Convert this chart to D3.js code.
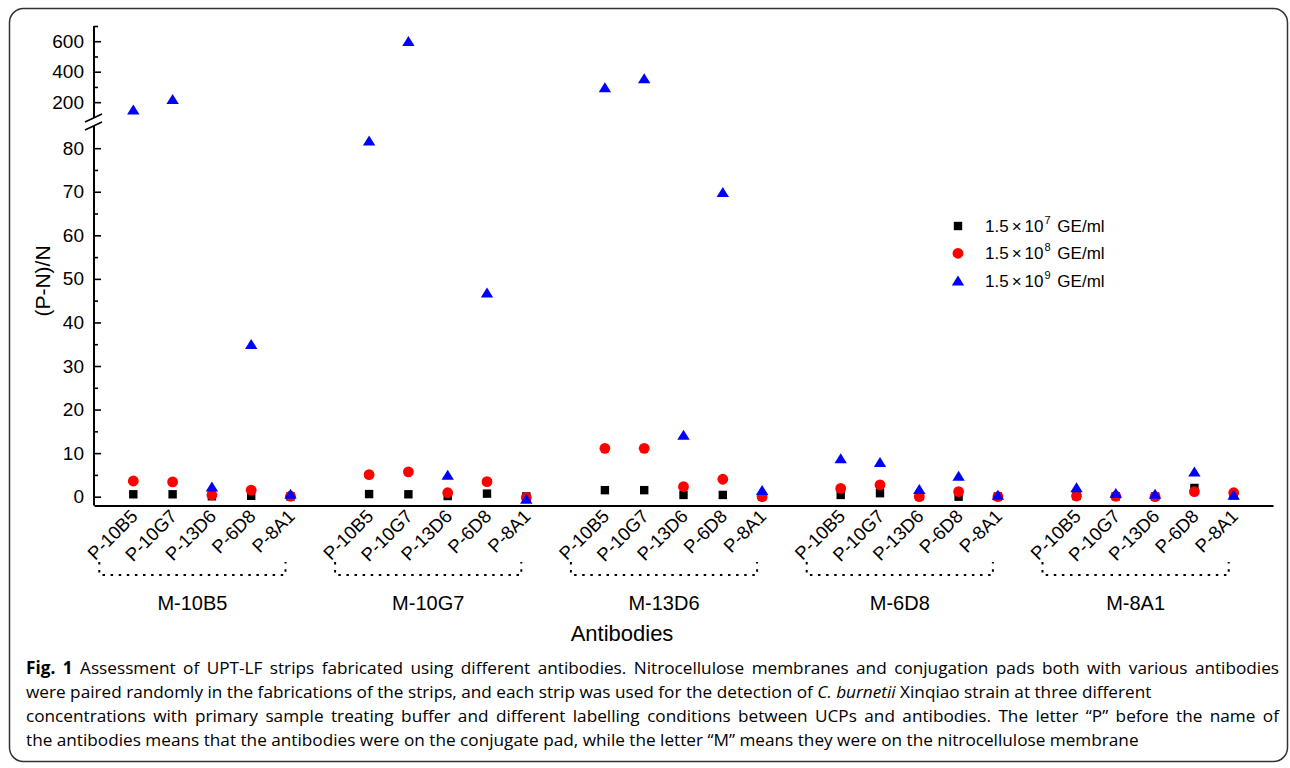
<!DOCTYPE html>
<html>
<head>
<meta charset="utf-8">
<script src="https://cdn.jsdelivr.net/npm/d3@7"></script>
<style>
  body { margin: 0; background: #fff; }
  text { font-family: "Liberation Sans", Arial, sans-serif; fill: #000; }
  .caption text { font-family: "Open Sans", "Noto Sans", sans-serif; }
</style>
</head>
<body>
<script>

// data
const groups = ["M-10B5", "M-10G7", "M-13D6", "M-6D8", "M-8A1"];
const pads = ["P-10B5", "P-10G7", "P-13D6", "P-6D8", "P-8A1"];

// (P-N)/N per strip, group by group (5 pads in each membrane group)
const ge7 = [0.55, 0.55, 0.1, 0.2, 0.05,
             0.6, 0.55, 0.15, 0.7, 0.05,
             1.5, 1.5, 0.4, 0.4, 0.05,
             0.4, 0.8, 0.1, 0.0, 0.05,
             0.15, 0.1, 0.05, 2.0, 0.3];
const ge8 = [3.6, 3.4, 0.4, 1.5, 0.1,
             5.05, 5.7, 0.9, 3.45, -0.2,
             11.1, 11.1, 2.3, 4.0, 0.0,
             1.9, 2.7, 0.0, 1.15, 0.0,
             0.15, 0.1, 0.0, 1.15, 0.9];
const ge9 = [150, 220, 2.3, 35.0, 0.6,
             81.7, 600, 5.0, 46.8, -0.5,
             296, 355, 14.2, 69.9, 1.5,
             8.8, 7.9, 1.7, 4.75, 0.4,
             2.1, 0.8, 0.6, 5.75, 0.4];

const upper_ticks = [200, 400, 600];
const upper_minor = [300, 500, 700];
const lower_ticks = d3.range(0, 81, 10);
const lower_minor = d3.range(5, 80, 10);

const series = [
    {name: "7", values: ge7, color: "#000000", shape: "square"},
    {name: "8", values: ge8, color: "#ff0000", shape: "circle"},
    {name: "9", values: ge9, color: "#0000ff", shape: "triangle"}
];

const caption_lines = [
    [{t: "Fig. 1", w: "bold"}, {t: " Assessment of UPT-LF strips fabricated using different antibodies. Nitrocellulose membranes and conjugation pads both with various antibodies"}],
    [{t: "were paired randomly in the fabrications of the strips, and each strip was used for the detection of "}, {t: "C. burnetii", s: "italic"}, {t: " Xinqiao strain at three different"}],
    [{t: "concentrations with primary sample treating buffer and different labelling conditions between UCPs and antibodies. The letter \u201cP\u201d before the name of"}],
    [{t: "the antibodies means that the antibodies were on the conjugate pad, while the letter \u201cM\u201d means they were on the nitrocellulose membrane"}]
];
// full lines are set to the column width, the others stay natural
const caption_widths = [1253, null, 1253, null];

// setup
const W = 1290, H = 768;
const svg = d3.select("body").append("svg")
    .attr("width", W)
    .attr("height", H);

svg.append("rect")
    .attr("x", 9.5).attr("y", 8.5)
    .attr("width", 1278).attr("height", 753)
    .attr("rx", 14)
    .attr("fill", "none")
    .attr("stroke", "#333")
    .attr("stroke-width", 1.5);

const slot_of = i => Math.floor(i / 5) * 6 + (i % 5);

const x = d3.scaleLinear().domain([-1, 29]).range([94, 1273]);
const y_up = d3.scaleLinear().domain([100, 700]).range([117.4, 26]);
const y_low = d3.scaleLinear().domain([-2, 85]).range([505.4, 126.4]);
const y_pos = v => v > 90 ? y_up(v) : y_low(v);

const X0 = 94;

// y axis, two segments
const axis_g = svg.append("g").attr("transform", `translate(${X0},0)`);

const add_axis = function (scale, major, minor) {
    const g_major = axis_g.append("g")
        .call(d3.axisLeft(scale).tickValues(major).tickSize(-7).tickPadding(10).tickFormat(d3.format("d")));
    g_major.select(".domain").remove();
    g_major.selectAll("text").attr("font-size", 19).attr("font-family", null);
    g_major.selectAll("line").attr("stroke-width", 1.6);

    const g_minor = axis_g.append("g")
        .call(d3.axisLeft(scale).tickValues(minor).tickSize(-4).tickFormat(""));
    g_minor.select(".domain").remove();
    g_minor.selectAll("line").attr("stroke-width", 1.6);
};
add_axis(y_up, upper_ticks, upper_minor);
add_axis(y_low, lower_ticks, lower_minor);

axis_g.append("line")
    .attr("x1", 0).attr("x2", 0)
    .attr("y1", y_up(700)).attr("y2", 118)
    .attr("stroke", "#000").attr("stroke-width", 2);
axis_g.append("line")
    .attr("x1", 0).attr("x2", 0)
    .attr("y1", 126).attr("y2", y_low(-2))
    .attr("stroke", "#000").attr("stroke-width", 2);

// axis break marks
[0, 8].forEach(off => {
    axis_g.append("line")
        .attr("x1", -9).attr("y1", 122 + off)
        .attr("x2", 8).attr("y2", 114 + off)
        .attr("stroke", "#000").attr("stroke-width", 1.6);
});

svg.append("text")
    .attr("transform", "translate(50,281) rotate(-90)")
    .attr("text-anchor", "middle")
    .attr("font-size", 21)
    .text("(P-N)/N");

// x axis
const Y0 = y_low(-2);
const x_axis = svg.append("g")
    .attr("transform", `translate(0,${Y0})`)
    .call(d3.axisBottom(x)
        .tickValues(d3.range(25).map(slot_of))
        .tickSize(0)
        .tickFormat((d, i) => pads[i % 5]));
x_axis.select(".domain")
    .attr("stroke-width", 2);
x_axis.selectAll("text")
    .attr("font-size", 18.5)
    .attr("font-family", null)
    .attr("text-anchor", "end")
    .attr("y", 0).attr("dy", 0)
    .attr("transform", "translate(5,12) rotate(-45)");

// membrane group brackets
const brackets = svg.append("g");
groups.forEach((name, g) => {
    const x1 = x(g * 6) - 34;
    const x2 = x(g * 6 + 4) - 5;
    brackets.append("path")
        .attr("d", `M${x1},562 V575 H${x2} V562`)
        .attr("fill", "none")
        .attr("stroke", "#000")
        .attr("stroke-width", 2)
        .attr("stroke-dasharray", "2.5,5.6");
    brackets.append("text")
        .attr("x", (x1 + x2) / 2)
        .attr("y", 610)
        .attr("text-anchor", "middle")
        .attr("font-size", 20)
        .text(name);
});

svg.append("text")
    .attr("x", 622).attr("y", 641)
    .attr("text-anchor", "middle")
    .attr("font-size", 22)
    .text("Antibodies");

// markers
const draw_marker = function (sel, shape, color) {
    if (shape === "square") {
        sel.append("rect")
            .attr("x", -4.2).attr("y", -4.2)
            .attr("width", 8.4).attr("height", 8.4)
            .attr("fill", color);
    } else if (shape === "circle") {
        sel.append("circle")
            .attr("r", 5.4)
            .attr("fill", color);
    } else {
        sel.append("path")
            .attr("d", "M0,-5.2 L6.2,4.8 L-6.2,4.8 Z")
            .attr("fill", color);
    }
};

series.forEach(s => {
    const pts = svg.append("g").selectAll("g")
        .data(s.values)
        .enter()
        .append("g")
        .attr("transform", (d, i) => `translate(${x(slot_of(i))},${y_pos(d)})`);
    draw_marker(pts, s.shape, s.color);
});

// legend
const legend = svg.append("g").attr("transform", "translate(958,226)");
series.forEach((s, i) => {
    const row = legend.append("g").attr("transform", `translate(0,${i * 27.3})`);
    draw_marker(row, s.shape, s.color);
    const t = row.append("text")
        .attr("x", 27).attr("y", 6)
        .attr("font-size", 17);
    t.append("tspan").text("1.5");
    t.append("tspan").attr("dx", 3).text("\u00d7");
    t.append("tspan").attr("dx", 3).text("10");
    t.append("tspan").attr("font-size", 11).attr("dy", -8).attr("dx", 1).text(s.name);
    t.append("tspan").attr("dy", 8).attr("dx", 2).text(" GE/ml");
});

// caption
const cap = svg.append("g").attr("class", "caption");
caption_lines.forEach((parts, i) => {
    const t = cap.append("text")
        .attr("x", 26)
        .attr("y", 674 + i * 24)
        .attr("font-size", 17.2)
        .attr("fill", "#222");
    parts.forEach(p => {
        t.append("tspan")
            .attr("font-weight", p.w || null)
            .attr("font-style", p.s || null)
            .text(p.t);
    });
    const target = caption_widths[i];
    if (target) {
        const w = t.node().getComputedTextLength();
        const spaces = parts.map(p => p.t).join("").split(" ").length - 1;
        t.style("word-spacing", ((target - w) / spaces) + "px");
    }
});

</script>
</body>
</html>
